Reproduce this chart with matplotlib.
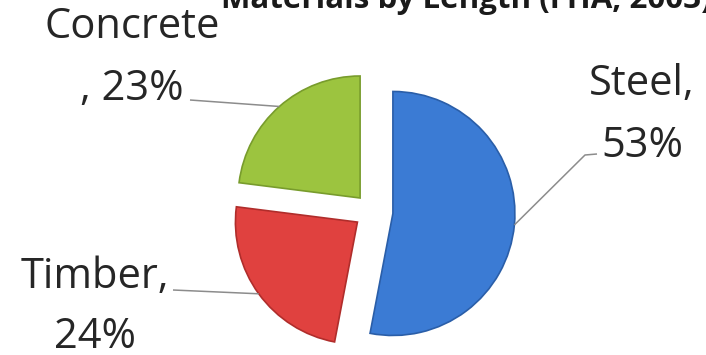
import math
import matplotlib
matplotlib.use("Agg")
import matplotlib.pyplot as plt

# Bridge materials share by length
categories = ["Steel", "Timber", "Concrete"]
shares = [53, 24, 23]
label_lines = [["Steel,", "53%"], ["Timber,", "24%"], ["Concrete", ", 23%"]]
title = "Materials by Length (FHA, 2003)"

colors = ["#3b7bd4", "#e0413f", "#9cc43f"]
edges = ["#2a5ea8", "#b02d2b", "#789c2c"]
explode = [21, 18, 18]

W, H = 706, 355
fig = plt.figure(figsize=(W / 100, H / 100), dpi=100)
ax = fig.add_axes([0, 0, 1, 1])

center = (372, 143.5)
radius = 122
wedges, _ = ax.pie(shares, colors=colors, startangle=90, counterclock=False,
                   radius=radius, center=center, explode=explode,
                   wedgeprops=dict(linewidth=1.2))
for w, ec in zip(wedges, edges):
    w.set_edgecolor(ec)

ax.set_xlim(0, W)
ax.set_ylim(0, H)
ax.set_aspect("auto")
ax.axis("off")

font = dict(family=["Open Sans", "DejaVu Sans"], fontsize=30, color="#262626")

# label anchor (centre x, first baseline y) and leader end point
label_pos = [(642, 260), (95, 67), (132, 317)]
line_gap = [62, 60, 62]
leader_end = [[(597, 201), (585, 200)], [(173, 65)], [(190, 255)]]

for w, lines, (lx, ly), gap, pts in zip(wedges, label_lines, label_pos,
                                         line_gap, leader_end):
    for i, s in enumerate(lines):
        ax.text(lx, ly - i * gap, s, ha="center", va="baseline", **font)
    mid = math.radians((w.theta1 + w.theta2) / 2)
    cx, cy = w.center
    ex, ey = cx + w.r * math.cos(mid), cy + w.r * math.sin(mid)
    xs = [p[0] for p in pts] + [ex]
    ys = [p[1] for p in pts] + [ey]
    ax.plot(xs, ys, color="#8c8c8c", lw=1.1, solid_capstyle="butt")

# chart title sits at the very top edge of the canvas
ax.text(466, 347, title, ha="center", va="baseline", fontweight="bold",
        family=["Open Sans", "DejaVu Sans"], fontsize=22.5, color="#1a1a1a")

fig.savefig("out.png", dpi=100, facecolor="white")
